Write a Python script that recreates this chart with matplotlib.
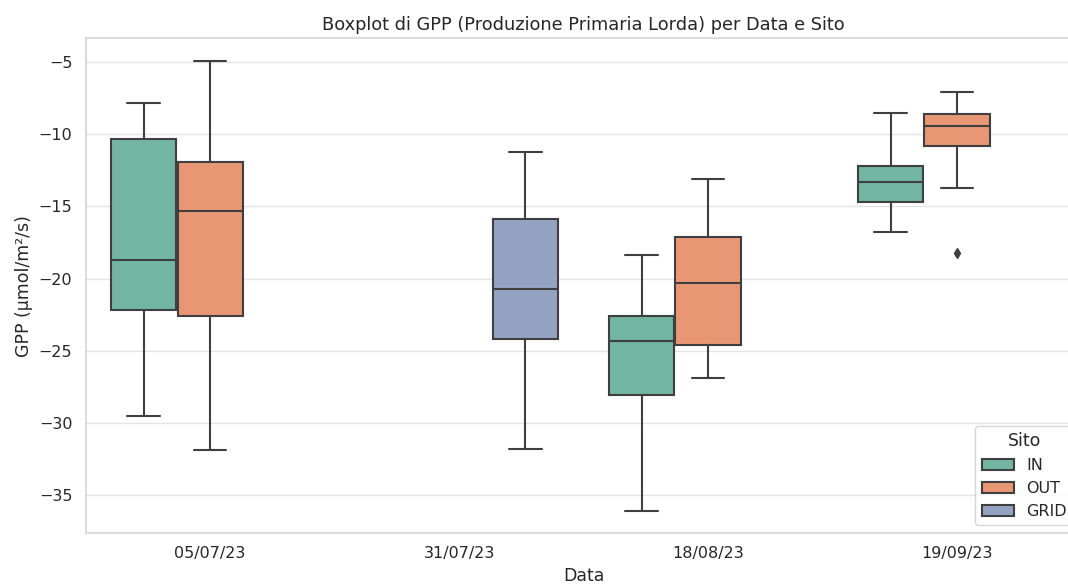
"""
Boxplot of GPP by date and site, drawn from box statistics read off the chart.
"""

import colorsys

import matplotlib
matplotlib.use("Agg")
import matplotlib.pyplot as plt
import matplotlib.colors as mcolors
from matplotlib.patches import Patch
import seaborn as sns

# --- data (box statistics per date / site) ---
dates = ["05/07/23", "31/07/23", "18/08/23", "19/09/23"]
sites = ["IN", "OUT", "GRID"]

# one entry per (date, site) that exists; None where the site was not measured
whislo = {
    "IN":   [-29.5, None, -36.1, -16.8],
    "OUT":  [-31.9, None, -26.9, -13.7],
    "GRID": [None, -31.8, None, None],
}
q1 = {
    "IN":   [-22.2, None, -28.1, -14.7],
    "OUT":  [-22.6, None, -24.6, -10.8],
    "GRID": [None, -24.2, None, None],
}
med = {
    "IN":   [-18.7, None, -24.3, -13.3],
    "OUT":  [-15.3, None, -20.3, -9.4],
    "GRID": [None, -20.7, None, None],
}
q3 = {
    "IN":   [-10.3, None, -22.6, -12.2],
    "OUT":  [-11.9, None, -17.1, -8.6],
    "GRID": [None, -15.9, None, None],
}
whishi = {
    "IN":   [-7.8, None, -18.4, -8.5],
    "OUT":  [-4.9, None, -13.1, -7.1],
    "GRID": [None, -11.2, None, None],
}
fliers = {
    "IN":   [[], [], [], []],
    "OUT":  [[], [], [], [-18.2]],
    "GRID": [[], [], [], []],
}


def desaturate(color, prop):
    r, g, b = mcolors.to_rgb(color)
    h, l, s = colorsys.rgb_to_hls(r, g, b)
    return colorsys.hls_to_rgb(h, l, s * prop)


def main() -> None:
    sns.set_theme(style="whitegrid", rc={"grid.color": "#e4e4e4", "axes.edgecolor": "#d6d6d6"})
    plt.rcParams["font.family"] = ["DejaVu Sans"]

    palette = [desaturate(c, 0.75) for c in sns.color_palette("Set2", 3)]
    line_col = "#3f3f3f"

    fig = plt.figure(figsize=(10.68, 5.85), dpi=100)
    ax = fig.add_axes([0.0801, 0.0884, 0.9325, 0.8461])

    width = 0.8
    each = width / len(sites)
    offsets = [-each, 0.0, each]

    for s_idx, site in enumerate(sites):
        stats, pos = [], []
        for d_idx in range(len(dates)):
            if med[site][d_idx] is None:
                continue
            stats.append({
                "med": med[site][d_idx],
                "q1": q1[site][d_idx],
                "q3": q3[site][d_idx],
                "whislo": whislo[site][d_idx],
                "whishi": whishi[site][d_idx],
                "fliers": fliers[site][d_idx],
            })
            pos.append(d_idx + offsets[s_idx])
        ax.bxp(
            stats,
            positions=pos,
            widths=each * 0.98,
            patch_artist=True,
            manage_ticks=False,
            boxprops=dict(facecolor=palette[s_idx], edgecolor=line_col, linewidth=1.5),
            medianprops=dict(color=line_col, linewidth=1.5),
            whiskerprops=dict(color=line_col, linewidth=1.5),
            capprops=dict(color=line_col, linewidth=1.5),
            flierprops=dict(marker="d", markerfacecolor=line_col, markeredgecolor=line_col,
                            markersize=5),
        )

    ax.set_xticks(range(len(dates)))
    ax.set_xticklabels(dates, fontsize=11.5)
    ax.set_xlim(-0.5, len(dates) - 0.5)
    ax.set_ylim(-37.65, -3.35)
    ax.set_yticks([-35, -30, -25, -20, -15, -10, -5])
    ax.tick_params(axis="y", labelsize=11.5)
    ax.xaxis.grid(False)

    ax.set_xlabel("Data", fontsize=12.5)
    ax.set_ylabel("GPP (µmol/m²/s)", fontsize=12.5)
    ax.set_title("Boxplot di GPP (Produzione Primaria Lorda) per Data e Sito", fontsize=12.8)

    handles = [Patch(facecolor=palette[i], edgecolor=line_col, linewidth=1.5, label=s)
               for i, s in enumerate(sites)]
    ax.legend(handles=handles, title="Sito", loc="lower right", fontsize=11.5,
              title_fontsize=12.5)

    fig.savefig("out.png", dpi=100)
    plt.close(fig)


if __name__ == "__main__":
    main()
